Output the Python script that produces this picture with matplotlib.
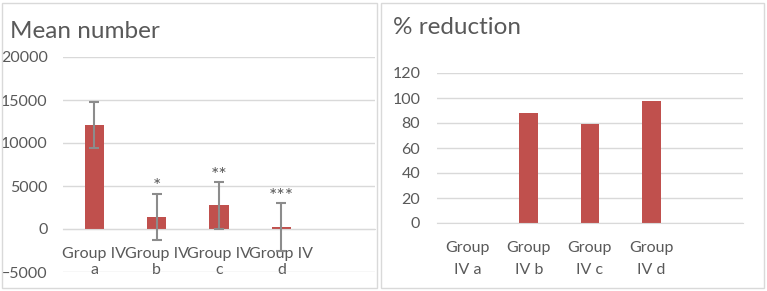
import matplotlib.pyplot as plt
from matplotlib.patches import Rectangle

# data
groups_left = ["Group IV\na", "Group IV\nb", "Group IV\nc", "Group IV\nd", ""]
mean_number = [12100, 1400, 2750, 250]
mean_err = [2700, 2700, 2700, 2750]
stars = ["", "*", "**", "***"]

groups_right = ["Group\nIV a", "Group\nIV b", "Group\nIV c", "Group\nIV d", ""]
reduction = [0, 88, 79.2, 97.6]

bar_color = "#C0504D"
grid_color = "#D9D9D9"
text_color = "#595959"

plt.rcParams['font.family'] = ['Lato', 'DejaVu Sans']

fig = plt.figure(figsize=(7.67, 2.91), dpi=100)

# panel frames
for x0, w in [(2 / 767, 375 / 767), (381 / 767, 383 / 767)]:
    fig.patches.append(Rectangle((x0, 3 / 291), w, 285 / 291, transform=fig.transFigure,
                                 fill=False, edgecolor=grid_color, lw=1))

# left chart
ax1 = fig.add_axes([63 / 767, 1 - 272 / 291, 312 / 767, 215 / 291])
x = list(range(len(mean_number)))
ax1.bar(x, mean_number, width=0.31, color=bar_color, zorder=2)
ax1.errorbar(x, mean_number, yerr=mean_err, fmt="none", ecolor="#8C8C8C",
             elinewidth=1.5, capsize=3.5, capthick=1.5, zorder=3)
for i, s in enumerate(stars):
    if s:
        ax1.annotate(s, (i, mean_number[i] + mean_err[i]), xytext=(0, -1),
                     textcoords="offset points", ha="center", va="bottom",
                     fontsize=14, color=text_color)
ax1.set_xlim(-0.5, 4.5)
ax1.set_ylim(-5000, 20000)
ax1.set_yticks([-5000, 0, 5000, 10000, 15000, 20000])
ax1.set_xticks(range(len(groups_left)))
ax1.set_xticklabels(groups_left, linespacing=1.85)
ax1.spines['bottom'].set_position(('data', 0))
ax1.spines['bottom'].set_color(grid_color)
for side in ['top', 'right', 'left']:
    ax1.spines[side].set_visible(False)
ax1.grid(axis='y', color=grid_color, lw=1, zorder=0)
ax1.tick_params(length=0, labelsize=11.5, labelcolor=text_color)
ax1.tick_params(axis='y', pad=11)
ax1.tick_params(axis='x', pad=13)
fig.text(10 / 767, 1 - 32 / 291, "Mean number", fontsize=17.5, color=text_color, va="center")

# right chart
ax2 = fig.add_axes([437 / 767, 1 - 223 / 291, 306 / 767, 150 / 291])
x2 = list(range(len(reduction)))
ax2.bar(x2, reduction, width=0.31, color=bar_color, zorder=2)
ax2.set_xlim(-0.5, 4.5)
ax2.set_ylim(0, 120)
ax2.set_yticks(range(0, 121, 20))
ax2.set_xticks(range(len(groups_right)))
ax2.set_xticklabels(groups_right, linespacing=1.75)
ax2.spines['bottom'].set_color(grid_color)
for side in ['top', 'right', 'left']:
    ax2.spines[side].set_visible(False)
ax2.grid(axis='y', color=grid_color, lw=1, zorder=0)
ax2.tick_params(length=0, labelsize=11.5, labelcolor=text_color)
ax2.tick_params(axis='y', pad=12)
ax2.tick_params(axis='x', pad=13)
fig.text(393 / 767, 1 - 28 / 291, "% reduction", fontsize=17.5, color=text_color, va="center")

fig.savefig("out.png", dpi=100)
